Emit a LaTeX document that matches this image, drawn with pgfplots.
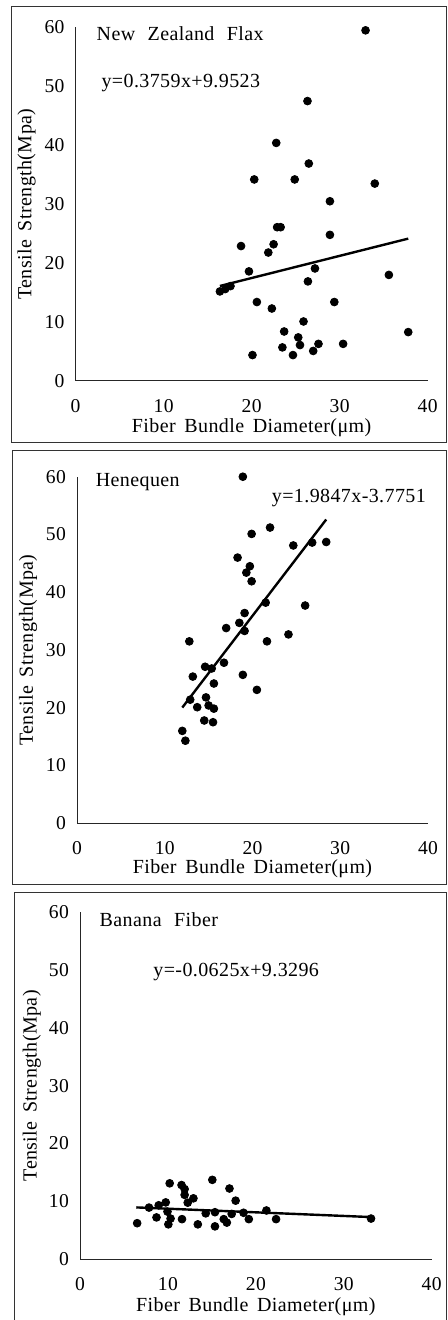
\documentclass[border=0pt]{standalone}
\usepackage{fontspec}
\setmainfont{Liberation Serif}[WordSpace=1.6, LetterSpace=2]
\newfontfamily\ttlfont{Liberation Serif}[WordSpace=2.3, LetterSpace=2]
\usepackage{pgfplots}
\pgfplotsset{compat=1.18}
\pgfplotsset{
  myax/.style={
    anchor=south west, scale only axis,
    xmin=0, xmax=40, ymin=0, ymax=60,
    xtick={0,10,...,40}, ytick={0,10,...,60},
    axis x line=bottom, axis y line=left,
    axis line style={-, line width=0.5pt, black!85},
    major tick length=0pt,
    tick label style={font=\fontsize{9.8}{11}\selectfont},
    /pgf/number format/assume math mode=true,
    xticklabel style={yshift=-5.5pt},
    yticklabel style={xshift=-2pt},
    clip=false,
    xlabel={Fiber Bundle Diameter(μm)},
    ylabel={Tensile Strength(Mpa)},
    label style={font=\fontsize{10}{12}\selectfont},
    xlabel style={at={(axis description cs:0.5,-0.132)}, anchor=center},
    ylabel style={at={(axis description cs:-0.139,0.5)}, anchor=center},
  },
  dots/.style={only marks, mark=*, mark size=1.95pt, black},
  fit/.style={no marks, line width=1.2pt, black},
}
\tikzset{txt/.style={inner sep=0pt, font=\fontsize{10}{12}\selectfont},
  ttl/.style={inner sep=0pt, font=\ttlfont\fontsize{10}{12}\selectfont}}
\begin{document}
\begin{tikzpicture}
\useasboundingbox (0pt,0pt) rectangle (224pt,-660pt);
\draw[line width=0.5pt, black!80] (5.5pt,-3.5pt) rectangle (223.3pt,-221pt);
\draw[line width=0.5pt, black!80] (6pt,-225pt) rectangle (223.3pt,-442pt);
\draw[line width=0.5pt, black!80] (7pt,-660pt) -- (7pt,-446pt) -- (223.3pt,-446pt) -- (223.3pt,-660pt);

% Panel 1: New Zealand Flax
\begin{axis}[myax, at={(37.8pt,-190.5pt)}, width=176pt, height=176.8pt]
\addplot[dots] coordinates {
(32.95,59.5) (26.35,47.5) (22.8,40.4) (26.5,36.9) (20.3,34.2) (24.9,34.2)
(34.0,33.5) (28.9,30.5) (22.9,26.1) (23.3,26.1) (28.9,24.8) (18.8,22.9)
(22.5,23.2) (21.9,21.8) (27.2,19.1) (19.7,18.6) (35.6,18.0) (26.4,16.9)
(16.4,15.2) (17.0,15.6) (17.6,16.1) (20.6,13.4) (29.4,13.4) (22.3,12.3)
(25.9,10.1) (23.7,8.4) (37.8,8.3) (25.3,7.4) (25.5,6.1) (27.6,6.3)
(30.4,6.3) (27.0,5.1) (23.5,5.7) (20.1,4.4) (24.7,4.4)
};
\addplot[fit] coordinates {(16.4,16.12) (37.8,24.16)};
\node[ttl, anchor=west] at (axis cs:2.35,59) {New Zealand Flax};
\node[txt, anchor=west] at (axis cs:2.9,50.5) {y=0.3759x+9.9523};
\end{axis}

% Panel 2: Henequen
\begin{axis}[myax, at={(38.5pt,-411.65pt)}, width=175.5pt, height=173.3pt]
\addplot[dots] coordinates {
(18.9,60.0) (22.0,51.2) (19.9,50.1) (24.65,48.1) (26.8,48.6) (28.4,48.7)
(18.3,46.0) (19.7,44.5) (19.3,43.4) (19.9,41.9) (21.5,38.2) (26.0,37.7)
(19.1,36.4) (18.5,34.7) (17.0,33.8) (19.1,33.3) (24.1,32.7) (12.8,31.5)
(21.65,31.5) (16.75,27.8) (14.6,27.1) (15.35,26.8) (18.9,25.7) (13.2,25.4)
(15.6,24.2) (20.5,23.1) (12.9,21.4) (14.7,21.8) (13.7,20.1) (15.0,20.4)
(15.6,19.85) (14.5,17.8) (15.5,17.5) (12.0,16.0) (12.35,14.3)
};
\addplot[fit] coordinates {(12.0,20.04) (28.4,52.59)};
\node[ttl, anchor=west] at (axis cs:2.1,59.0) {Henequen};
\node[txt, anchor=east] at (axis cs:39.8,56.4) {y=1.9847x-3.7751};
\end{axis}

% Panel 3: Banana Fiber
\begin{axis}[myax, at={(40pt,-629.5pt)}, width=175.85pt, height=173.35pt,
  xlabel style={at={(axis description cs:0.5,-0.138)}, anchor=center},
  ylabel style={at={(axis description cs:-0.137,0.5)}, anchor=center}]
\addplot[dots] coordinates {
(15.05,13.7) (10.2,13.1) (11.55,12.8) (17.0,12.2) (11.9,12.1) (11.9,11.1)
(12.9,10.5) (17.7,10.1) (9.75,9.8) (12.25,9.75) (8.95,9.3) (7.85,8.9)
(21.2,8.4) (9.95,8.2) (14.3,7.9) (15.35,8.1) (17.25,7.8) (18.6,8.0)
(8.7,7.2) (10.3,7.0) (11.6,6.9) (16.35,6.9) (19.2,6.9) (22.3,6.9)
(33.1,7.0) (6.5,6.2) (10.05,6.0) (13.4,6.0) (16.7,6.3) (15.35,5.65)
};
\addplot[fit] coordinates {(6.4,8.93) (33.1,7.26)};
\node[ttl, anchor=west] at (axis cs:2.2,58.8) {Banana Fiber};
\node[txt, anchor=west] at (axis cs:8.3,49.6) {y=-0.0625x+9.3296};
\end{axis}
\end{tikzpicture}
\end{document}
